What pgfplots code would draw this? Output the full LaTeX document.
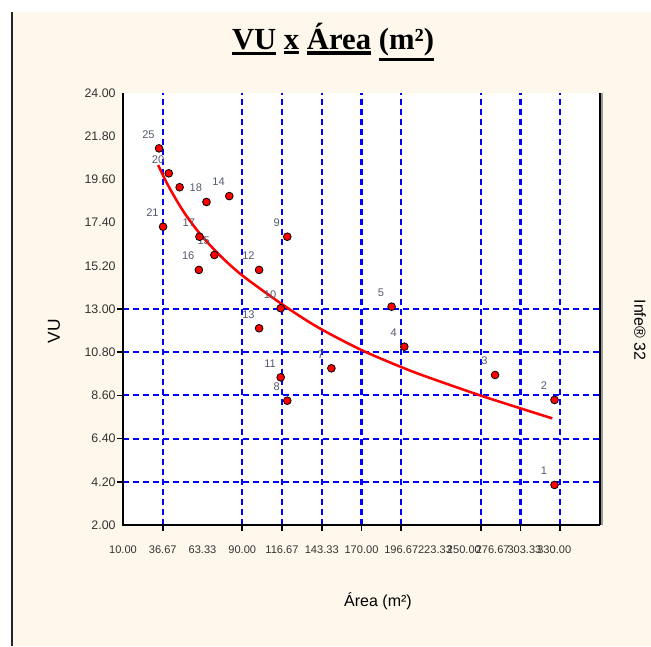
\documentclass[border=0pt]{standalone}
\usepackage{pgfplots}
\pgfplotsset{compat=1.18}
\usepackage{fontspec}
\setmainfont{Liberation Sans}
\newfontfamily\titlefont{Liberation Serif}
\definecolor{cream}{RGB}{254,248,236}
\definecolor{gridblue}{RGB}{0,0,255}
\definecolor{lblgray}{RGB}{85,90,110}
\newcommand\ul[1]{\leavevmode\vtop{\hbox{#1}\kern1.2pt\hrule height 2.3pt}}
\begin{document}
\begin{tikzpicture}[x=0.75pt,y=0.75pt]
\fill[white] (0,0) rectangle (651,646);
\fill[cream] (12,0) rectangle (651,634);
\draw[black!85, line width=1.5pt] (12,0) -- (12,634);
\begin{axis}[
  at={(92.25pt,90.75pt)}, anchor=south west,
  scale only axis, width=357.75pt, height=324pt,
  xmin=10, xmax=330, ymin=2, ymax=24,
  axis line style={draw=none},
  axis background/.style={fill=white},
  xtick={10,36.67,63.33,90,116.67,143.33,170,196.67,219.3,238.7,258,279.3,299.3},
  xticklabels={10.00,36.67,63.33,90.00,116.67,143.33,170.00,196.67,223.33,250.00,276.67,303.33,330.00},
  ytick={2,4.2,6.4,8.6,10.8,13,15.2,17.4,19.6,21.8,24},
  yticklabels={2.00,4.20,6.40,8.60,10.80,13.00,15.20,17.40,19.60,21.80,24.00},
  major tick length=0pt,
  xticklabel style={font=\fontsize{8.3}{9}\selectfont, text=black!80, yshift=-12pt},
  yticklabel style={font=\fontsize{9.3}{10}\selectfont, text=black!80, xshift=-2pt},
  clip=false,
]
\pgfplotsinvokeforeach{36.67,90,116.67,143.33,170,196.67,250,276.67,303.33}{
  \draw[gridblue, dash pattern=on 4.5pt off 3pt, line width=1.6pt] (axis cs:#1,2) -- (axis cs:#1,24);
  \draw[black, line width=1.3pt] (axis cs:#1,2) -- ([yshift=-4.5pt]axis cs:#1,2);
}
\pgfplotsinvokeforeach{4.2,6.4,8.6,10.8,13}{
  \draw[gridblue, dash pattern=on 4.5pt off 3pt, line width=1.6pt] (axis cs:10,#1) -- (axis cs:330,#1);
  \draw[black, line width=1.3pt] (axis cs:10,#1) -- ([xshift=-4.5pt]axis cs:10,#1);
}
\addplot[red, line width=1.9pt, smooth] coordinates {
 (33.6,20.33) (40,19.33) (50,18.03) (61.3,16.86) (75,15.73) (90,14.71)
 (115.8,13.29) (140,12.1) (170,10.91) (200,9.94) (220,9.38) (250,8.59)
 (275,7.98) (298,7.43)
};
\addplot[only marks, mark=*, mark size=2.9pt, mark options={fill=red, draw=black, line width=0.6pt},
  nodes near coords, point meta=explicit symbolic,
  every node near coord/.style={anchor=center, xshift=-8pt, yshift=10.5pt,
    font=\fontsize{8.3}{9}\selectfont, text=lblgray}]
 table[meta=lab] {
x y lab
299.5 4.04 1
299.5 8.37 2
259.6 9.64 3
198.7 11.08 4
190.2 13.12 5
149.8 9.98 7
120.2 8.33 8
120.2 16.68 9
115.8 13.04 10
115.8 9.52 11
101.3 14.99 12
101.3 12.02 13
81.3 18.75 14
71.3 15.75 15
60.9 14.99 16
61.3 16.68 17
66.0 18.45 18
40.7 19.91 20
36.9 17.19 21
34.2 21.18 25
};
\addplot[only marks, mark=*, mark size=2.9pt, mark options={fill=red, draw=black, line width=0.6pt}]
 coordinates {(48,19.2)};
\draw[black, line width=1.6pt] (rel axis cs:0,1) -- (rel axis cs:0,0) -- (rel axis cs:1,0);
\draw[black!40, line width=1pt] ([xshift=1.4pt]rel axis cs:1,0) -- ([xshift=1.4pt]rel axis cs:1,1);
\draw[black, line width=1.3pt] (rel axis cs:1,0) -- (rel axis cs:1,1);
\end{axis}
\node at (333,604) {\titlefont\bfseries\fontsize{23}{27}\selectfont \ul{VU} \ul{x} \ul{Área} \ul{(m²)}};
\node[rotate=90] at (54,315) {\fontsize{13}{15}\selectfont VU};
\node at (378,45) {\fontsize{12}{14}\selectfont Área (m²)};
\node[rotate=-90] at (640,316) {\fontsize{12}{14}\selectfont Infe® 32};
\end{tikzpicture}
\end{document}
